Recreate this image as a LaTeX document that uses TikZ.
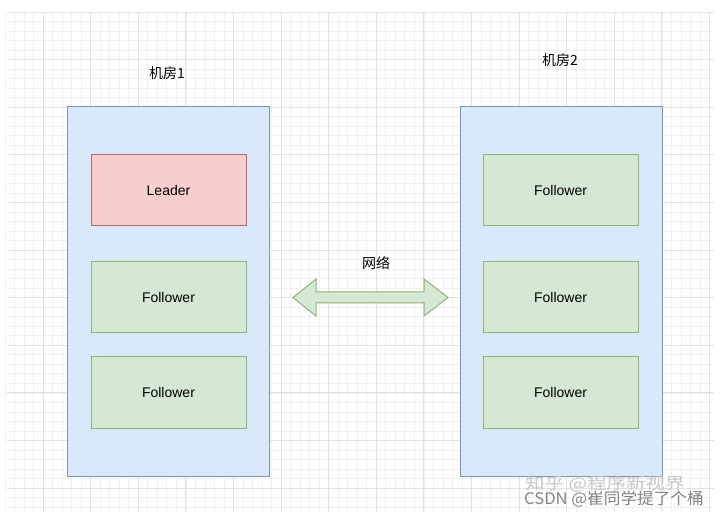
\documentclass[tikz,border=0pt]{standalone}
\usepackage{graphicx}
\usepackage{fontspec}
\setmainfont{Liberation Sans}
\newfontfamily\cjk{Noto Sans CJK SC}
\definecolor{boxblue}{HTML}{DAE8FC}
\definecolor{lineblue}{HTML}{7A93B8}
\definecolor{boxred}{HTML}{F8CECC}
\definecolor{linered}{HTML}{B46A6A}
\definecolor{boxgreen}{HTML}{D5E8D4}
\definecolor{linegreen}{HTML}{8DB676}
\definecolor{gridminor}{HTML}{F0F0F0}
\definecolor{gridmajor}{HTML}{E2E2E2}
\tikzset{
  room/.style={draw=lineblue, fill=boxblue, line width=1pt, minimum width=202pt, minimum height=369pt, inner sep=0pt},
  leaderbox/.style={draw=linered, fill=boxred, line width=1pt, minimum width=155pt, minimum height=71pt, inner sep=0pt, font=\fontsize{14}{16}\selectfont},
  followerbox/.style={draw=linegreen, fill=boxgreen, line width=1pt, minimum width=155pt, minimum height=71pt, inner sep=0pt, font=\fontsize{14}{16}\selectfont},
  lbl/.style={font=\fontsize{14}{16}\selectfont\cjk, inner sep=0pt},
  wm/.style={inner sep=0pt, anchor=west}
}
\begin{document}
\begin{tikzpicture}[x=1pt,y=-1pt]
\useasboundingbox (0,0) rectangle (720,518);
\fill[white] (0,0) rectangle (720,518);
% grid
\foreach \i in {0,...,74} {
  \draw[gridminor, line width=0.6pt] ({-4.6+9.52*\i},12) -- ({-4.6+9.52*\i},512);
}
\foreach \j in {0,...,52} {
  \draw[gridminor, line width=0.6pt] (7,{12+9.52*\j}) -- (714,{12+9.52*\j});
}
\foreach \i in {1,...,15} {
  \draw[gridmajor, line width=0.8pt] ({-4.6+47.6*\i},12) -- ({-4.6+47.6*\i},512);
}
\foreach \j in {0,...,10} {
  \draw[gridmajor, line width=0.8pt] (7,{12+47.6*\j}) -- (714,{12+47.6*\j});
}
% rooms
\node[room] (roomA) at (168,291.5) {};
\node[room] (roomB) at (561,291.5) {};
\node[lbl] (labA) at (167,73) {机房1};
\node[lbl] (labB) at (560,60) {机房2};
% left
\node[leaderbox] (leader) at (168.5,190.5) {Leader};
\node[followerbox] (fA1) at (168.5,297.5) {Follower};
\node[followerbox] (fA2) at (168.5,392.5) {Follower};
% right
\node[followerbox] (fB1) at (560.5,190.5) {Follower};
\node[followerbox] (fB2) at (560.5,297.5) {Follower};
\node[followerbox] (fB3) at (560.5,392.5) {Follower};
% network arrow
\draw[draw=linegreen, fill=boxgreen, line width=1pt, line join=miter]
  (293,297.5) -- (316,279) -- (316,292) -- (424,292) -- (424,279) -- (448,297.5)
  -- (424,316) -- (424,303) -- (316,303) -- (316,316) -- cycle;
\node[lbl] (net) at (376,263) {网络};
% watermarks
\node[wm, text=black!22] (wm1) at (525,484) {\scalebox{1.22}[1]{\fontsize{16}{18}\selectfont\cjk 知乎 @程序新视界}};
\node[wm, text=black!48] (wm2) at (524,499.5) {\scalebox{1.04}[1]{\fontsize{16}{18}\selectfont\cjk CSDN @崔同学提了个桶}};
\end{tikzpicture}
\end{document}
